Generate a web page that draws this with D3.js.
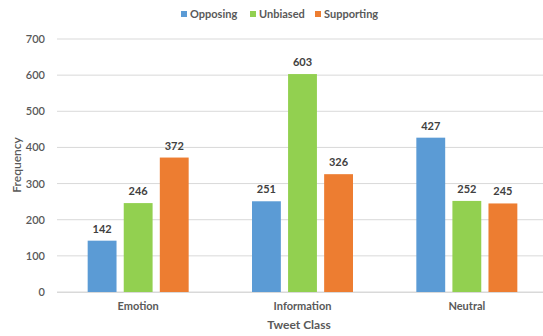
<!DOCTYPE html>
<html><head><meta charset="utf-8">
<script src="https://cdn.jsdelivr.net/npm/d3@7"></script>
<style>body{margin:0;background:#fff}svg{display:block;font-family:Lato,"Open Sans",sans-serif}</style>
</head><body><svg id="c" width="543" height="336"></svg>
<script>
const categories = ["Emotion", "Information", "Neutral"];
const seriesNames = ["Opposing", "Unbiased", "Supporting"];
const opposing = [142, 251, 427];
const unbiased = [246, 603, 252];
const supporting = [372, 326, 245];
const yTicks = [0, 100, 200, 300, 400, 500, 600, 700];
const colors = ["#5B9BD5", "#92D050", "#ED7D31"];

const svg = d3.select("#c");
const x0 = d3.scaleBand().domain(categories).range([56, 549]).paddingInner(0).paddingOuter(0);
const x1 = d3.scaleBand().domain(seriesNames).range([x0.bandwidth()/2 - 50.5, x0.bandwidth()/2 + 50.5]).paddingInner(0.2).paddingOuter(0);
const y = d3.scaleLinear().domain([0, 700]).range([292, 39]);

// gridlines
svg.append("g").selectAll("line").data(yTicks).join("line")
  .attr("x1", 57).attr("x2", 543).attr("y1", d => y(d)).attr("y2", d => y(d))
  .attr("stroke", "#d9d9d9").attr("stroke-width", 1);

// y axis labels
const yAxis = d3.axisLeft(y).tickValues(yTicks).tickSize(0).tickPadding(0);
const ya = svg.append("g").attr("transform", "translate(45,0)").call(yAxis);
ya.select(".domain").remove();
ya.selectAll("text").attr("fill", "#595959").style("font-size", "11px").style("font-family", "Lato,sans-serif").style("font-weight", "600");

// bars
const data = categories.map((c, i) => ({cat: c, vals: [opposing[i], unbiased[i], supporting[i]]}));
const g = svg.append("g");
data.forEach(d => {
  const gg = g.append("g").attr("transform", `translate(${x0(d.cat)},0)`);
  gg.selectAll("rect").data(d.vals).join("rect")
    .attr("x", (v, j) => x1(seriesNames[j]))
    .attr("width", x1.bandwidth())
    .attr("y", v => y(v)).attr("height", v => y(0) - y(v))
    .attr("fill", (v, j) => colors[j]);
  gg.selectAll("text").data(d.vals).join("text")
    .attr("x", (v, j) => x1(seriesNames[j]) + x1.bandwidth()/2)
    .attr("y", v => y(v) - 8)
    .attr("text-anchor", "middle")
    .attr("fill", "#404040").style("font-size", "11px").style("font-weight", "700")
    .text(v => v);
});

// x axis
const xAxis = d3.axisBottom(x0).tickSize(0).tickPadding(10);
const xa = svg.append("g").attr("transform", `translate(0,${y(0)})`).call(xAxis);
xa.select(".domain").attr("d", "M57,0.5H543").attr("stroke", "#d9d9d9");
xa.selectAll("text").attr("fill", "#595959").style("font-size", "11px").style("font-family", "Lato,sans-serif").style("font-weight", "700");

// axis titles
svg.append("text").attr("x", 299).attr("y", 329).attr("text-anchor", "middle")
  .attr("fill", "#595959").style("font-size", "12px").style("font-weight", "700").text("Tweet Class");
svg.append("text").attr("transform", "translate(21,165) rotate(-90)").attr("text-anchor", "middle")
  .attr("fill", "#595959").style("font-size", "12px").style("font-weight", "600").text("Frequency");

// legend
const legX = [181, 250, 315];
const leg = svg.append("g").selectAll("g").data(seriesNames).join("g")
  .attr("transform", (d, i) => `translate(${legX[i]},11)`);
leg.append("rect").attr("width", 6).attr("height", 6).attr("fill", (d, i) => colors[i]);
leg.append("text").attr("x", 9).attr("y", 7).attr("fill", "#595959")
  .style("font-size", "11px").style("font-weight", "700").text(d => d);
</script></body></html>
